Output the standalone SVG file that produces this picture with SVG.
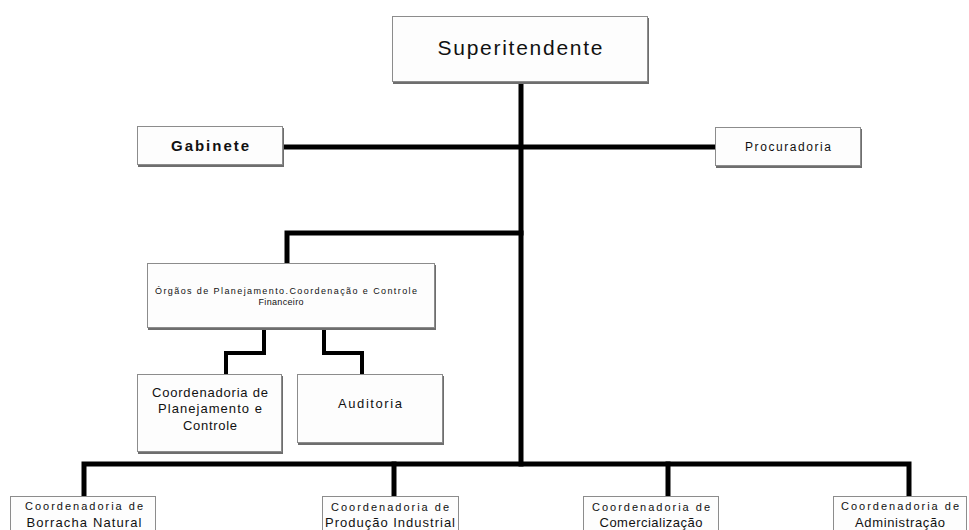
<svg xmlns="http://www.w3.org/2000/svg" width="969" height="530" viewBox="0 0 969 530">
<style>
.box{fill:#fdfdfd;stroke:#8c8c8c;stroke-width:1}
.sh{fill:#6e6e6e}
.t{font-family:"Liberation Sans",Arial,sans-serif;fill:#111;text-anchor:middle}
.c{fill:none;stroke:#000;stroke-width:5;stroke-linejoin:miter;stroke-linecap:square}
.c2{fill:none;stroke:#000;stroke-width:4;stroke-linejoin:miter;stroke-linecap:butt}
</style>
<rect width="969" height="530" fill="#fff"/>
<g id="connectors">
<path class="c" d="M521,84 V464"/>
<path class="c" d="M285,147 H716"/>
<path class="c" d="M521,233 H287 V262"/>
<path class="c" d="M84,496 V464 H909 V496"/>
<path class="c" d="M394,464 V496"/>
<path class="c" d="M668,464 V496"/>
<path class="c2" d="M264,329 V353 H226 V374"/>
<path class="c2" d="M324,329 V353 H362 V374"/>
</g>
<g id="superintendente">
<rect class="sh" x="393" y="18" width="256" height="66"/>
<rect class="box" x="392.5" y="16.5" width="255" height="65"/>
<text class="t" x="520" y="55" font-size="21" textLength="165">Superitendente</text>
</g>
<g id="gabinete">
<rect class="sh" x="138" y="128" width="146" height="39"/>
<rect class="box" x="137.5" y="126.5" width="145" height="38"/>
<text class="t" x="210" y="151" font-size="15" font-weight="bold" textLength="78">Gabinete</text>
</g>
<g id="procuradoria">
<rect class="sh" x="716" y="129" width="146" height="39"/>
<rect class="box" x="715.5" y="127.5" width="145" height="38"/>
<text class="t" x="788" y="151" font-size="12" textLength="86">Procuradoria</text>
</g>
<g id="orgaos">
<rect class="sh" x="148" y="265" width="288" height="65"/>
<rect class="box" x="147.5" y="263.5" width="287" height="64"/>
<text class="t" x="286" y="294" font-size="9" textLength="262">Órgãos de Planejamento.Coordenação  e Controle</text>
<text class="t" x="281" y="305" font-size="9" textLength="45">Financeiro</text>
</g>
<g id="coord-planejamento">
<rect class="sh" x="138" y="376" width="145" height="78"/>
<rect class="box" x="137.5" y="374.5" width="144" height="77"/>
<text class="t" x="210" y="397" font-size="13" textLength="116">Coordenadoria de</text>
<text class="t" x="210" y="413" font-size="13" textLength="104">Planejamento e</text>
<text class="t" x="210" y="430" font-size="13" textLength="54">Controle</text>
</g>
<g id="auditoria">
<rect class="sh" x="298" y="376" width="146" height="69"/>
<rect class="box" x="297.5" y="374.5" width="145" height="68"/>
<text class="t" x="370" y="408" font-size="13" textLength="64">Auditoria</text>
</g>
<g id="coord-borracha">
<rect class="box" x="10.5" y="496.5" width="145" height="40"/>
<text class="t" x="84" y="510" font-size="11" textLength="118" fill="#333">Coordenadoria de</text>
<text class="t" x="84" y="527" font-size="13" textLength="115">Borracha Natural</text>
</g>
<g id="coord-producao">
<rect class="box" x="322.5" y="496.5" width="136" height="40"/>
<text class="t" x="390" y="511" font-size="11" textLength="118">Coordenadoria de</text>
<text class="t" x="390" y="527" font-size="13" textLength="130">Produção Industrial</text>
</g>
<g id="coord-comercializacao">
<rect class="box" x="583.5" y="496.5" width="135" height="40"/>
<text class="t" x="651" y="511" font-size="11" textLength="118">Coordenadoria de</text>
<text class="t" x="651" y="527" font-size="13" textLength="103">Comercialização</text>
</g>
<g id="coord-administracao">
<rect class="box" x="833.5" y="496.5" width="133" height="40"/>
<text class="t" x="900" y="510" font-size="11" textLength="118">Coordenadoria de</text>
<text class="t" x="900" y="527" font-size="13" textLength="90">Administração</text>
</g>
</svg>
